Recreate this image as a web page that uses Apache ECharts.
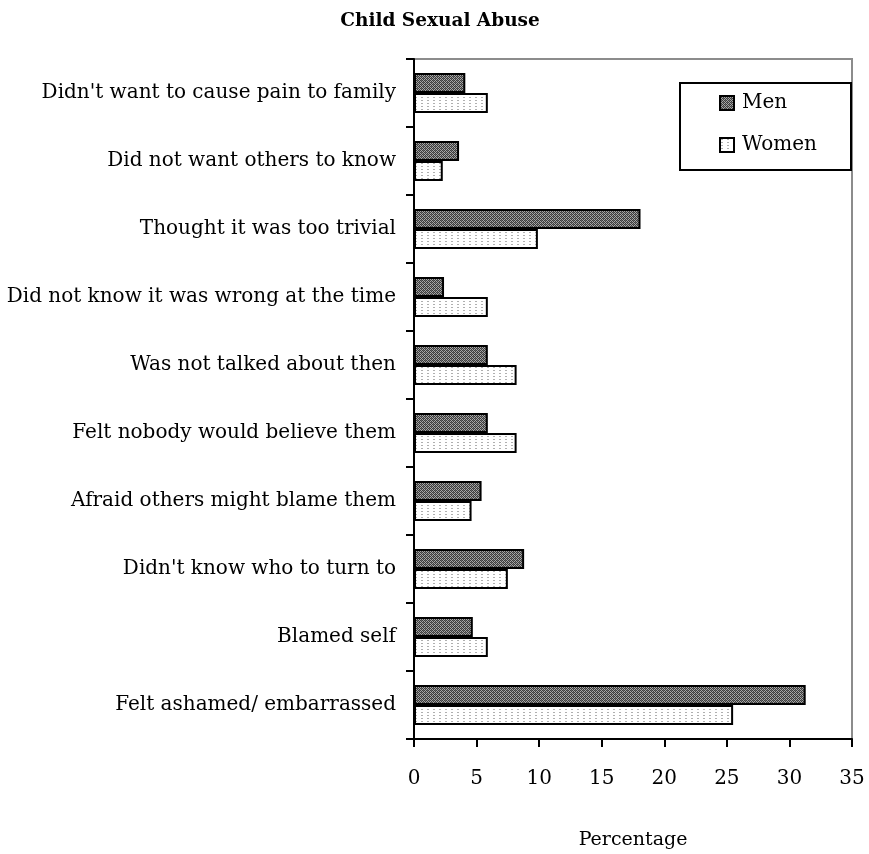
<!DOCTYPE html>
<html>
<head>
<meta charset="utf-8">
<script src="https://cdn.jsdelivr.net/npm/echarts@6/dist/echarts.min.js"></script>
<style>
  html, body { margin: 0; padding: 0; background: #fff; }
  #chart { width: 869px; height: 854px; }
</style>
</head>
<body>
<div id="chart"></div>
<script>
// Reasons given for not telling anyone, top to bottom
const categories = [
  "Didn't want to cause pain to family",
  "Did not want others to know",
  "Thought it was too trivial",
  "Did not know it was wrong at the time",
  "Was not talked about then",
  "Felt nobody would believe them",
  "Afraid others might blame them",
  "Didn't know who to turn to",
  "Blamed self",
  "Felt ashamed/ embarrassed"
];
const menValues   = [4.1, 3.6, 18.1, 2.4, 5.9, 5.9, 5.4, 8.8, 4.7, 31.3];
const womenValues = [5.9, 2.3, 9.9, 5.9, 8.2, 8.2, 4.6, 7.5, 5.9, 25.5];
const seriesNames = ['Men', 'Women'];
const xTicks = { min: 0, max: 35, interval: 5 };

const FONT = '"DejaVu Serif", serif';

// Dithered dark fill for the first series
function darkPattern() {
  const c = document.createElement('canvas');
  c.width = 4; c.height = 4;
  const g = c.getContext('2d');
  g.fillStyle = '#a8a8a8';
  g.fillRect(0, 0, 4, 4);
  g.fillStyle = '#3c3c3c';
  g.fillRect(0, 0, 1, 1); g.fillRect(1, 1, 1, 1);
  g.fillRect(2, 2, 1, 1); g.fillRect(3, 3, 1, 1);
  g.fillRect(2, 0, 1, 1); g.fillRect(0, 2, 1, 1);
  g.fillRect(1, 3, 1, 1); g.fillRect(3, 1, 1, 1);
  g.fillStyle = '#6a6a6a';
  g.fillRect(1, 0, 1, 1); g.fillRect(3, 2, 1, 1);
  return c;
}
// Light dotted fill for the second series
function dotPattern() {
  const c = document.createElement('canvas');
  c.width = 6; c.height = 3;
  const g = c.getContext('2d');
  g.fillStyle = '#ffffff';
  g.fillRect(0, 0, 6, 3);
  g.fillStyle = '#b0b0b0';
  g.fillRect(1, 1, 2, 1);
  return c;
}

const chart = echarts.init(document.getElementById('chart'), null, { renderer: 'canvas' });

const barStyle = (pattern) => ({
  color: { image: pattern, repeat: 'repeat' },
  borderColor: '#000',
  borderWidth: 2
});

chart.setOption({
  animation: false,
  backgroundColor: '#fff',
  title: [
    {
      text: 'Child Sexual Abuse',
      left: 435, top: 7, textAlign: 'center',
      textStyle: { fontFamily: FONT, fontWeight: 'bold', fontSize: 18.5, color: '#000' }
    },
    {
      text: 'Percentage',
      left: 628, top: 826, textAlign: 'center',
      textStyle: { fontFamily: FONT, fontWeight: 'normal', fontSize: 19, color: '#000' }
    }
  ],
  grid: {
    left: 414, right: 17, top: 59, bottom: 115,
    show: true, borderColor: '#8c8c8c', borderWidth: 2, backgroundColor: 'transparent'
  },
  legend: {
    data: seriesNames,
    orient: 'vertical',
    left: 719, top: 93, padding: 0,
    icon: 'rect',
    itemWidth: 14, itemHeight: 14, itemGap: 22,
    textStyle: { fontFamily: FONT, fontSize: 20, color: '#000', padding: [0, 0, 0, 3] },
    itemStyle: { borderColor: '#000', borderWidth: 2 }
  },
  graphic: [{
    type: 'rect',
    shape: { x: 680, y: 83, width: 171, height: 87 },
    style: { fill: 'none', stroke: '#000', lineWidth: 2 },
    z: 10
  }],
  xAxis: {
    type: 'value',
    min: xTicks.min, max: xTicks.max, interval: xTicks.interval,
    axisLine: { show: true, lineStyle: { color: '#000', width: 2 } },
    axisTick: { show: true, length: 8, lineStyle: { color: '#000', width: 2 } },
    axisLabel: { fontFamily: FONT, fontSize: 20, color: '#000', margin: 30 },
    splitLine: { show: false }
  },
  yAxis: {
    type: 'category',
    data: categories,
    inverse: true,
    axisLine: { show: true, lineStyle: { color: '#000', width: 2 } },
    axisTick: { show: true, length: 8, lineStyle: { color: '#000', width: 2 } },
    axisLabel: { fontFamily: FONT, fontSize: 20, color: '#000', margin: 18 },
    splitLine: { show: false }
  },
  series: [
    {
      name: seriesNames[0], type: 'bar', data: menValues,
      barWidth: 20, barGap: '0%',
      itemStyle: barStyle(darkPattern())
    },
    {
      name: seriesNames[1], type: 'bar', data: womenValues,
      barWidth: 20, barGap: '0%',
      itemStyle: barStyle(dotPattern())
    }
  ]
});
</script>
</body>
</html>
